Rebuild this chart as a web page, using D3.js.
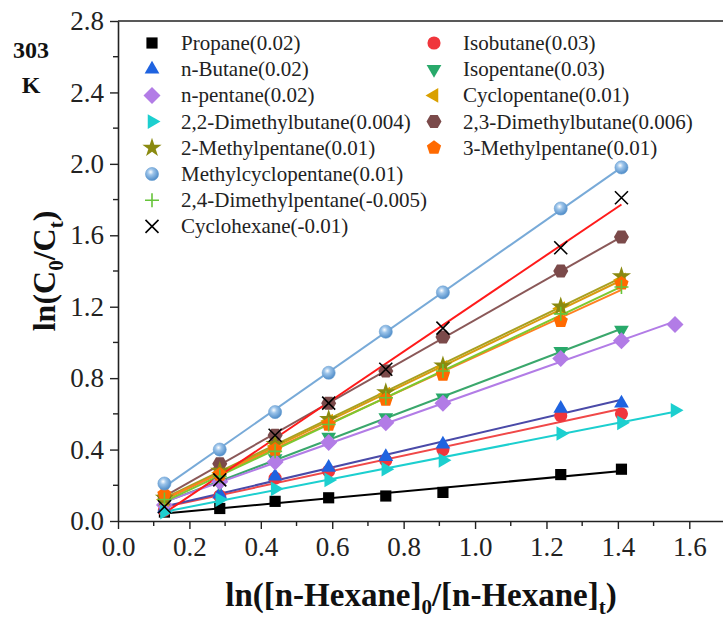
<!DOCTYPE html>
<html>
<head>
<meta charset="utf-8">
<script src="https://cdn.jsdelivr.net/npm/d3@7"></script>
<style>
  body { margin: 0; background: #fff; }
  text { font-family: "Liberation Serif", "Times New Roman", serif; }
</style>
</head>
<body>
<div id="chart"></div>
<script>
// x positions (ln of n-hexane ratio)
const xBase = [0.13, 0.285, 0.44, 0.59, 0.75, 0.91, 1.24, 1.41];
const xLong = [0.13, 0.285, 0.44, 0.59, 0.75, 0.91, 1.24, 1.41, 1.56];

const propane      = [0.05, 0.07, 0.11, 0.13, 0.14, 0.16, 0.26, 0.29];
const isobutane    = [0.06, 0.14, 0.24, 0.28, 0.34, 0.40, 0.59, 0.60];
const nButane      = [0.07, 0.15, 0.25, 0.30, 0.36, 0.43, 0.63, 0.66];
const isopentane   = [0.10, 0.21, 0.35, 0.47, 0.58, 0.69, 0.95, 1.07];
const nPentane     = [0.09, 0.22, 0.33, 0.44, 0.55, 0.66, 0.91, 1.01, 1.10];
const cyclopentane = [0.12, 0.27, 0.42, 0.56, 0.71, 0.86, 1.19, 1.35];
const dmb22        = [0.05, 0.12, 0.18, 0.23, 0.29, 0.34, 0.49, 0.55, 0.62];
const dmb23        = [0.14, 0.32, 0.48, 0.66, 0.84, 1.03, 1.40, 1.59];
const mp2          = [0.13, 0.28, 0.43, 0.57, 0.72, 0.87, 1.20, 1.37];
const mp3          = [0.15, 0.26, 0.40, 0.54, 0.68, 0.82, 1.12, 1.33];
const mcp          = [0.21, 0.40, 0.61, 0.83, 1.06, 1.28, 1.75, 1.98];
const dmp24        = [0.12, 0.25, 0.39, 0.54, 0.69, 0.84, 1.16, 1.31];
const cyclohexane  = [0.08, 0.23, 0.48, 0.66, 0.85, 1.08, 1.53, 1.81];

const series = [
  {name: "Propane(0.02)", x: xBase, y: propane, shape: "square", fill: "#000000", line: "#000000", col: 0, row: 0},
  {name: "Isobutane(0.03)", x: xBase, y: isobutane, shape: "circle", fill: "#f0363c", line: "#f04848", col: 1, row: 0},
  {name: "n-Butane(0.02)", x: xBase, y: nButane, shape: "triUp", fill: "#1f63e0", line: "#4a4aa8", col: 0, row: 1},
  {name: "Isopentane(0.03)", x: xBase, y: isopentane, shape: "triDown", fill: "#28a96a", line: "#3aa76c", col: 1, row: 1},
  {name: "n-pentane(0.02)", x: xLong, y: nPentane, shape: "diamond", fill: "#b27ce6", line: "#b27ce6", col: 0, row: 2},
  {name: "Cyclopentane(0.01)", x: xBase, y: cyclopentane, shape: "triLeft", fill: "#d9a000", line: "#d99a10", col: 1, row: 2},
  {name: "2,2-Dimethylbutane(0.004)", x: xLong, y: dmb22, shape: "triRight", fill: "#1ccfcf", line: "#1ccfcf", col: 0, row: 3},
  {name: "2,3-Dimethylbutane(0.006)", x: xBase, y: dmb23, shape: "hexagon", fill: "#7b4a4a", line: "#8a5858", col: 1, row: 3},
  {name: "2-Methylpentane(0.01)", x: xBase, y: mp2, shape: "star", fill: "#8a8a10", line: "#a8a020", col: 0, row: 4},
  {name: "3-Methylpentane(0.01)", x: xBase, y: mp3, shape: "pentagon", fill: "#ff6a00", line: "#ff8020", col: 1, row: 4},
  {name: "Methylcyclopentane(0.01)", x: xBase, y: mcp, shape: "ball", fill: "#6fa5d8", line: "#78aad8", col: 0, row: 5},
  {name: "2,4-Dimethylpentane(-0.005)", x: xBase, y: dmp24, shape: "plus", fill: "#66c43a", line: "#7cc830", col: 0, row: 6},
  {name: "Cyclohexane(-0.01)", x: xBase, y: cyclohexane, shape: "cross", fill: "#000000", line: "#ff1a1a", col: 0, row: 7}
];

const xTicks = [0.0, 0.2, 0.4, 0.6, 0.8, 1.0, 1.2, 1.4, 1.6];
const yTicks = [0.0, 0.4, 0.8, 1.2, 1.6, 2.0, 2.4, 2.8];

const W = 723, H = 619;
const mLeft = 118, mTop = 21, mBottom = 521, mRight = 725;

const svg = d3.select("#chart").append("svg")
    .attr("width", W)
    .attr("height", H);

const defs = svg.append("defs");
const grad = defs.append("radialGradient").attr("id", "ballGrad")
    .attr("cx", "40%").attr("cy", "35%").attr("r", "65%");
grad.append("stop").attr("offset", "0%").attr("stop-color", "#ffffff");
grad.append("stop").attr("offset", "35%").attr("stop-color", "#9cc4ea");
grad.append("stop").attr("offset", "100%").attr("stop-color", "#4f8cc8");

const x = d3.scaleLinear().domain([0, 1.7]).range([mLeft, mRight]);
const y = d3.scaleLinear().domain([0, 2.8]).range([mBottom, mTop]);

// polygon path helper
function poly(n, r, rot) {
  const pts = d3.range(n).map(i => {
    const a = rot + i * 2 * Math.PI / n;
    return [r * Math.cos(a), r * Math.sin(a)];
  });
  return "M" + pts.map(p => p.join(",")).join("L") + "Z";
}

function shapePath(kind) {
  switch (kind) {
    case "square": return d3.symbol(d3.symbolSquare, 125)();
    case "circle": return d3.symbol(d3.symbolCircle, 135)();
    case "ball": return d3.symbol(d3.symbolCircle, 135)();
    case "triUp": return poly(3, 8.5, -Math.PI / 2);
    case "triDown": return poly(3, 8.5, Math.PI / 2);
    case "triLeft": return poly(3, 8.5, Math.PI);
    case "triRight": return poly(3, 8.5, 0);
    case "diamond": return poly(4, 8.5, 0);
    case "hexagon": return poly(6, 7.5, 0);
    case "pentagon": return poly(5, 7.5, -Math.PI / 2);
    case "star": return d3.symbol(d3.symbolStar, 115)();
    case "plus": return "M-7,0L7,0M0,-7L0,7";
    case "cross": return "M-6.5,-6.5L6.5,6.5M-6.5,6.5L6.5,-6.5";
  }
}

function drawMarker(g, s) {
  const p = g.append("path").attr("d", shapePath(s.shape));
  if (s.shape === "plus" || s.shape === "cross") {
    p.attr("fill", "none").attr("stroke", s.fill).attr("stroke-width", 1.6);
  } else if (s.shape === "ball") {
    p.attr("fill", "url(#ballGrad)").attr("stroke", "#6a9fd2").attr("stroke-width", 0.6);
  } else {
    p.attr("fill", s.fill);
  }
  return p;
}

// linear fit lines
function fit(xs, ys) {
  const mx = d3.mean(xs), my = d3.mean(ys);
  let num = 0, den = 0;
  xs.forEach((v, i) => { num += (v - mx) * (ys[i] - my); den += (v - mx) * (v - mx); });
  const b = num / den;
  return {b: b, a: my - b * mx};
}

const plot = svg.append("g");

series.forEach(s => {
  const f = fit(s.x, s.y);
  const x0 = d3.min(s.x), x1 = d3.max(s.x);
  plot.append("line")
      .attr("x1", x(x0)).attr("y1", y(f.a + f.b * x0))
      .attr("x2", x(x1)).attr("y2", y(f.a + f.b * x1))
      .attr("stroke", s.line)
      .attr("stroke-width", 2);
});

series.forEach(s => {
  s.x.forEach((xv, i) => {
    const g = plot.append("g").attr("transform", `translate(${x(xv)},${y(s.y[i])})`);
    drawMarker(g, s);
  });
});

// axes
const xAxis = svg.append("g")
    .attr("transform", `translate(0,${mBottom})`)
    .call(d3.axisBottom(x).tickValues(xTicks).tickFormat(d3.format(".1f")).tickSize(8).tickSizeOuter(0));
xAxis.append("g").selectAll("line")
    .data(d3.range(0.1, 1.75, 0.2))
    .enter().append("line")
      .attr("x1", d => x(d)).attr("x2", d => x(d))
      .attr("y1", 0).attr("y2", 5)
      .attr("stroke", "#222").attr("stroke-width", 1.4);

const yAxis = svg.append("g")
    .attr("transform", `translate(${mLeft},0)`)
    .call(d3.axisLeft(y).tickValues(yTicks).tickFormat(d3.format(".1f")).tickSize(8).tickSizeOuter(0));
yAxis.append("g").selectAll("line")
    .data(d3.range(0.2, 2.8, 0.4))
    .enter().append("line")
      .attr("x1", 0).attr("x2", -5)
      .attr("y1", d => y(d)).attr("y2", d => y(d))
      .attr("stroke", "#222").attr("stroke-width", 1.4);

[xAxis, yAxis].forEach(a => {
  a.attr("font-family", "Liberation Serif, serif");
  a.select(".domain").attr("stroke", "#222").attr("stroke-width", 1.6);
  a.selectAll(".tick line").attr("stroke", "#222").attr("stroke-width", 1.4);
  a.selectAll(".tick text")
      .attr("font-family", "Liberation Serif, serif")
      .attr("font-size", 27)
      .attr("fill", "#222");
});
xAxis.selectAll(".tick text").attr("dy", "0.9em");
yAxis.selectAll(".tick text").attr("x", -14);

// top frame line
svg.append("line")
    .attr("x1", mLeft).attr("x2", W)
    .attr("y1", mTop).attr("y2", mTop)
    .attr("stroke", "#222").attr("stroke-width", 1.6);

// legend
const legend = svg.append("g");
series.forEach(s => {
  const mx = s.col === 0 ? 152 : 434;
  const my = 43 + s.row * 26.2;
  const g = legend.append("g").attr("transform", `translate(${mx},${my})`);
  drawMarker(g, s);
  legend.append("text")
      .attr("x", mx + 29).attr("y", my + 7)
      .attr("font-size", 21)
      .attr("fill", "#222")
      .text(s.name);
});

// axis titles
const yt = svg.append("text")
    .attr("transform", `translate(55,271) rotate(-90)`)
    .attr("text-anchor", "middle")
    .attr("font-size", 32)
    .attr("font-weight", "bold")
    .attr("fill", "#111");
yt.append("tspan").text("ln(C");
yt.append("tspan").attr("font-size", 21).attr("dy", 8).text("0");
yt.append("tspan").attr("dy", -8).text("/C");
yt.append("tspan").attr("font-size", 21).attr("dy", 8).text("t");
yt.append("tspan").attr("dy", -8).text(")");

const xt = svg.append("text")
    .attr("x", 421).attr("y", 606)
    .attr("text-anchor", "middle")
    .attr("font-size", 33)
    .attr("font-weight", "bold")
    .attr("fill", "#111");
xt.append("tspan").text("ln([n-Hexane]");
xt.append("tspan").attr("font-size", 21).attr("dy", 8).text("0");
xt.append("tspan").attr("dy", -8).text("/[n-Hexane]");
xt.append("tspan").attr("font-size", 21).attr("dy", 8).text("t");
xt.append("tspan").attr("dy", -8).text(")");

// temperature label
svg.append("text").attr("x", 31).attr("y", 58)
    .attr("text-anchor", "middle").attr("font-size", 24).attr("font-weight", "bold")
    .attr("fill", "#111").text("303");
svg.append("text").attr("x", 31).attr("y", 93)
    .attr("text-anchor", "middle").attr("font-size", 24).attr("font-weight", "bold")
    .attr("fill", "#111").text("K");
</script>
</body>
</html>
